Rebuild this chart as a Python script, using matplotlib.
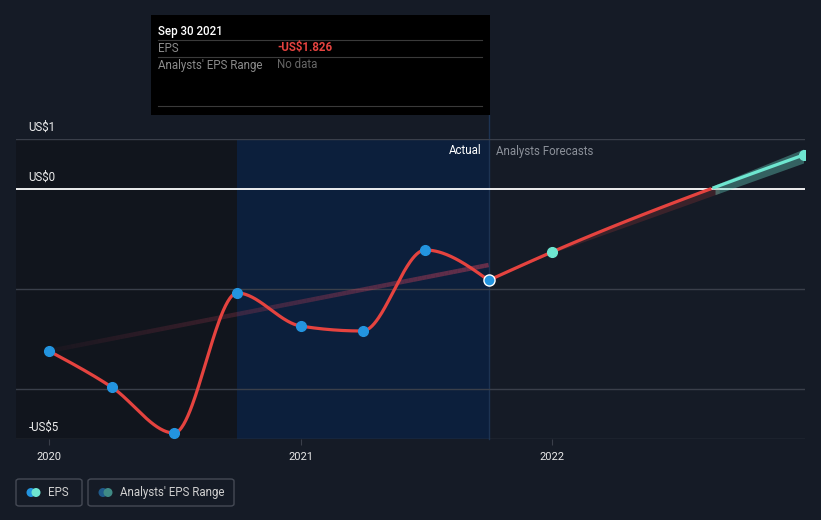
import numpy as np
import pandas as pd
import matplotlib
matplotlib.use("Agg")
import matplotlib.pyplot as plt
from matplotlib.patches import Rectangle, FancyBboxPatch, Ellipse
from matplotlib.collections import LineCollection

plt.rcParams['font.family'] = ['Roboto', 'DejaVu Sans']

# data
actual_dates = ['2019-12-31', '2020-03-31', '2020-06-30', '2020-09-30',
                '2020-12-31', '2021-03-31', '2021-06-30', '2021-09-30']
actual_eps = [-3.24, -3.96, -4.88, -2.08, -2.74, -2.84, -1.22, -1.826]

fc_dates = ['2021-09-30', '2021-12-31', '2022-12-31']
fc_eps = [-1.826, -1.26, 0.68]
fc_low = [-1.826, -1.28, 0.52]
fc_high = [-1.826, -1.24, 0.80]

trend_dates = ['2019-12-31', '2021-09-30']
trend_eps = [-3.24, -1.52]

year_ticks = [2020, 2021, 2022]
y_labels = {1: 'US$1', 0: 'US$0', -5: '-US$5'}

BG = '#151b26'
RED = '#e5433f'
TEAL = '#6ee6d0'
BLUE = '#2394df'
GRID = '#3a3f4a'
W, H = 821, 520


def dec_year(dates):
    d = pd.to_datetime(pd.Series(dates))
    days = np.where(d.dt.is_leap_year, 366, 365)
    return (d.dt.year + d.dt.dayofyear / days).to_numpy(float)


def monotone(x, y, n=60):
    # d3 curveMonotoneX style interpolation
    x = np.asarray(x, float)
    y = np.asarray(y, float)
    h = np.diff(x)
    s = np.diff(y) / h
    t = np.zeros(len(x))
    for i in range(1, len(x) - 1):
        p = (s[i - 1] * h[i] + s[i] * h[i - 1]) / (h[i - 1] + h[i])
        t[i] = (np.sign(s[i - 1]) + np.sign(s[i])) * min(abs(s[i - 1]), abs(s[i]), 0.5 * abs(p))
    if len(x) > 2:
        t[0] = (3 * s[0] - t[1]) / 2
        t[-1] = (3 * s[-1] - t[-2]) / 2
    else:
        t[:] = s[0]
    xs, ys = [], []
    for i in range(len(h)):
        u = np.linspace(0, 1, n)
        h00 = 2 * u**3 - 3 * u**2 + 1
        h10 = u**3 - 2 * u**2 + u
        h01 = -2 * u**3 + 3 * u**2
        h11 = u**3 - u**2
        xs.append(x[i] + u * h[i])
        ys.append(h00 * y[i] + h10 * h[i] * t[i] + h01 * y[i + 1] + h11 * h[i] * t[i + 1])
    return np.concatenate(xs), np.concatenate(ys)


def fx(px):
    return px / W


def fy(py):
    return 1 - py / H


ax_x = dec_year(actual_dates)
fc_x = dec_year(fc_dates)
tr_x = dec_year(trend_dates)

fig = plt.figure(figsize=(W / 100, H / 100), dpi=100, facecolor=BG)
ax = fig.add_axes([fx(16), fy(439), (805 - 16) / W, 300 / H])
ax.set_facecolor(BG)
px_per_year = (552 - 49) / 2
ax.set_xlim(2020 - 33 / px_per_year, 2020 + 756 / px_per_year)
ax.set_ylim(-5, 1)
for sp in ax.spines.values():
    sp.set_visible(False)
ax.set_yticks([])
ax.set_xticks(year_ticks)
ax.set_xticklabels([str(y) for y in year_ticks], color='#e8e8e8', fontsize=8)
ax.tick_params(axis='x', length=4, color=GRID, pad=5)

# shaded periods
x0 = ax.get_xlim()[0]
ax.axvspan(x0, ax_x[3], color='#11151d', zorder=0, lw=0)
ax.axvspan(ax_x[3], ax_x[-1], color='#0c1f3c', zorder=0, lw=0)
ax.plot([ax_x[-1], ax_x[-1]], [-5, 1.48], color='#1d3352', lw=1, zorder=1, clip_on=False)

# gridlines
for v in [1, -2, -4, -5]:
    ax.axhline(v, color=GRID, lw=1, zorder=1)
ax.axhline(0, color='white', lw=1.3, zorder=2)

for v, lab in y_labels.items():
    ax.annotate(lab, (x0, v), xytext=(9, 4), textcoords='offset points',
                color='#eeeeee', fontsize=8.3, va='bottom', ha='left')

# trend line with fading alpha
tx = np.linspace(tr_x[0], tr_x[1], 100)
ty = np.interp(tx, tr_x, trend_eps)
segs = np.stack([np.column_stack([tx[:-1], ty[:-1]]), np.column_stack([tx[1:], ty[1:]])], axis=1)
cols = np.zeros((len(segs), 4))
cols[:, :3] = matplotlib.colors.to_rgb('#c2405a')
cols[:, 3] = np.linspace(0.05, 0.5, len(segs))
ax.add_collection(LineCollection(segs, colors=cols, linewidths=3.2, zorder=3, capstyle='butt'))

# forecast band
bx = np.linspace(fc_x[0], fc_x[-1], 300)
blo = np.interp(bx, fc_x, fc_low)
bhi = np.interp(bx, fc_x, fc_high)
bmid = (blo + bhi) / 2
ax.fill_between(bx, blo, bhi, where=bmid <= 0.02, color='#e5433f', alpha=0.18, lw=0, zorder=3)
ax.fill_between(bx, blo, bhi, where=bmid >= -0.02, color='#6ee6d0', alpha=0.35, lw=0, zorder=3)

# actual EPS curve
cx, cy = monotone(ax_x, actual_eps)
ax.plot(cx, cy, color=RED, lw=2.3, zorder=4, solid_capstyle='round')

# forecast curve, red below zero and teal above
fxs, fys = monotone(fc_x, fc_eps)
ax.plot(fxs, np.ma.masked_where(fys > 0, fys), color=RED, lw=2.3, zorder=4)
ax.plot(fxs, np.ma.masked_where(fys < 0, fys), color=TEAL, lw=2.3, zorder=4)

ax.plot(ax_x[:-1], actual_eps[:-1], 'o', color=BLUE, ms=7, zorder=5)
ax.plot(ax_x[-1], actual_eps[-1], 'o', color=BLUE, ms=8, mec='white', mew=1, zorder=6)
ax.plot(fc_x[1:], fc_eps[1:], 'o', color=TEAL, ms=7, zorder=5, clip_on=True)

ax.text(ax_x[-1] - 0.03, 0.76, 'Actual', color='white', fontsize=8.3, ha='right', va='center')
ax.text(ax_x[-1] + 0.03, 0.76, 'Analysts Forecasts', color='#8b9099', fontsize=8.3, ha='left', va='center')

# tooltip
fig.add_artist(Rectangle((fx(151), fy(115)), (490 - 151) / W, 100 / H,
                         transform=fig.transFigure, facecolor='black', edgecolor='none'))
for yy in [40, 57, 106]:
    fig.add_artist(plt.Line2D([fx(158), fx(482)], [fy(yy), fy(yy)], color='#3a3a3a', lw=0.8))
fig.text(fx(158), fy(31), 'Sep 30 2021', color='white', fontsize=8.3, va='center', fontweight='medium')
fig.text(fx(158), fy(48), 'EPS', color='#8b8b8b', fontsize=8.3, va='center')
fig.text(fx(277), fy(48), '-US$1.826', color='#e5433f', fontsize=8.3, va='center', fontweight='bold')
fig.text(fx(158), fy(65), "Analysts' EPS Range", color='#8b8b8b', fontsize=8.3, va='center')
fig.text(fx(277), fy(65), 'No data', color='#666666', fontsize=8.3, va='center')

# legend
legend_items = [("EPS", 16, 82, BLUE, TEAL), ("Analysts' EPS Range", 88, 234, '#1f5a8a', '#3f8a85')]
for label, l, r, c1, c2 in legend_items:
    fig.add_artist(FancyBboxPatch((fx(l), fy(506)), (r - l) / W, 27 / H,
                                  boxstyle='round,pad=0,rounding_size=0.004',
                                  transform=fig.transFigure, facecolor=BG,
                                  edgecolor='#454a55', lw=1))
    fig.add_artist(Ellipse((fx(l + 7 + 15 - 7), fy(492.5)), 9 / W, 9 / H, transform=fig.transFigure,
                           facecolor=c1, edgecolor='none'))
    fig.add_artist(Ellipse((fx(l + 20), fy(492.5)), 9 / W, 9 / H, transform=fig.transFigure,
                           facecolor=c2, edgecolor='none'))
    fig.text(fx(l + 32), fy(492.5), label, color='#d0d0d0', fontsize=8.3, va='center')

fig.savefig('out.png', dpi=100, facecolor=BG)
